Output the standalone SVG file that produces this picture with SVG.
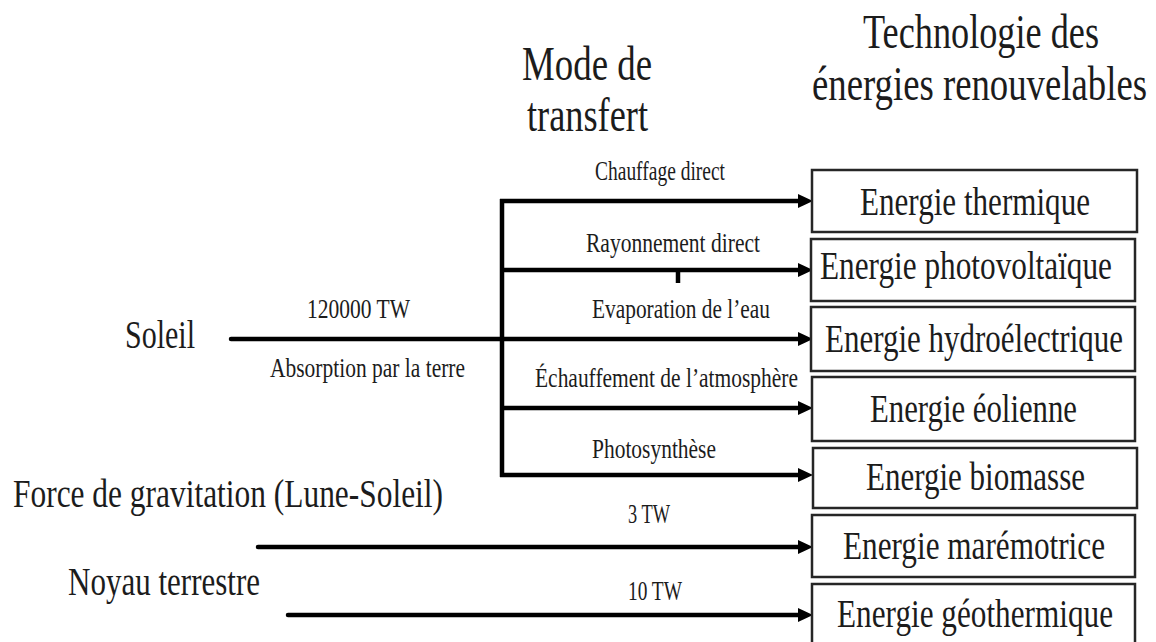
<svg xmlns="http://www.w3.org/2000/svg" width="1156" height="642" viewBox="0 0 1156 642">
<defs>
<marker id="arr" markerUnits="userSpaceOnUse" markerWidth="18" markerHeight="16" refX="7" refY="7" orient="auto">
<path d="M0,0 L15,7 L0,14 z" fill="#000"/>
</marker>
<style>
text{font-family:"Liberation Serif","Times New Roman",serif;fill:#1c1c1c}
.big{font-size:48px}
.box{font-size:40px}
.src{font-size:39px}
.lab{font-size:27px}
.node rect{fill:#fff;stroke:#262626;stroke-width:2.5}
.conn path{fill:none;stroke:#000;stroke-width:4.5}
</style>
</defs>
<rect width="1156" height="642" fill="#fff"/>
<g id="titles">
<text class="big" x="522" y="80" textLength="130" lengthAdjust="spacingAndGlyphs">Mode de</text>
<text class="big" x="527" y="131" textLength="121" lengthAdjust="spacingAndGlyphs">transfert</text>
<text class="big" x="863" y="48" textLength="236" lengthAdjust="spacingAndGlyphs">Technologie des</text>
<text class="big" x="812" y="100" textLength="335" lengthAdjust="spacingAndGlyphs">énergies renouvelables</text>
</g>
<g class="conn" id="connectors">
<path d="M231,339 H502" stroke-width="5.5" stroke-linecap="round"/>
<path d="M502,199 V477"/>
<path d="M500,201 H805" marker-end="url(#arr)"/>
<path d="M502,270 H805" stroke-width="3.5" marker-end="url(#arr)"/>
<path d="M502,339 H805" marker-end="url(#arr)"/>
<path d="M502,408 H805" marker-end="url(#arr)"/>
<path d="M500,475 H805" stroke-width="3.5" marker-end="url(#arr)"/>
<path d="M678,270 V283" stroke-width="1.5"/>
<path d="M258,547 H805" stroke-width="5" stroke-linecap="round" marker-end="url(#arr)"/>
<path d="M288,615 H805" stroke-width="4" stroke-linecap="round" marker-end="url(#arr)"/>
</g>
<g id="labels">
<text class="lab" x="595" y="180" textLength="130" lengthAdjust="spacingAndGlyphs">Chauffage direct</text>
<text class="lab" x="586" y="252" textLength="174" lengthAdjust="spacingAndGlyphs">Rayonnement direct</text>
<text class="lab" x="592" y="318" textLength="178" lengthAdjust="spacingAndGlyphs">Evaporation de l’eau</text>
<text class="lab" x="535" y="387" textLength="263" lengthAdjust="spacingAndGlyphs">Échauffement de l’atmosphère</text>
<text class="lab" x="592" y="458" textLength="124" lengthAdjust="spacingAndGlyphs">Photosynthèse</text>
<text class="lab" x="307" y="318" textLength="103" lengthAdjust="spacingAndGlyphs">120000 TW</text>
<text class="lab" x="270" y="377" textLength="195" lengthAdjust="spacingAndGlyphs">Absorption par la terre</text>
<text class="lab" x="628" y="523" textLength="42" lengthAdjust="spacingAndGlyphs">3 TW</text>
<text class="lab" x="628" y="600" textLength="54" lengthAdjust="spacingAndGlyphs">10 TW</text>
</g>
<g id="soleil"><text class="src" x="125" y="348" textLength="70" lengthAdjust="spacingAndGlyphs">Soleil</text></g>
<g id="gravitation"><text class="src" x="13" y="507" textLength="430" lengthAdjust="spacingAndGlyphs">Force de gravitation (Lune-Soleil)</text></g>
<g id="noyau"><text class="src" x="68" y="595" textLength="192" lengthAdjust="spacingAndGlyphs">Noyau terrestre</text></g>
<g class="node" id="thermique"><rect x="812" y="170" width="325" height="62"/><text class="box" x="860" y="215" textLength="230" lengthAdjust="spacingAndGlyphs">Energie thermique</text></g>
<g class="node" id="photovoltaique"><rect x="811" y="239" width="324" height="62"/><text class="box" x="820" y="279" textLength="292" lengthAdjust="spacingAndGlyphs">Energie photovoltaïque</text></g>
<g class="node" id="hydro"><rect x="811" y="307" width="324" height="64"/><text class="box" x="825" y="352" textLength="298" lengthAdjust="spacingAndGlyphs">Energie hydroélectrique</text></g>
<g class="node" id="eolienne"><rect x="812" y="377" width="323" height="64"/><text class="box" x="870" y="422" textLength="207" lengthAdjust="spacingAndGlyphs">Energie éolienne</text></g>
<g class="node" id="biomasse"><rect x="813" y="448" width="324" height="60"/><text class="box" x="866" y="490" textLength="219" lengthAdjust="spacingAndGlyphs">Energie biomasse</text></g>
<g class="node" id="maremotrice"><rect x="812" y="515" width="323" height="62"/><text class="box" x="843" y="559" textLength="262" lengthAdjust="spacingAndGlyphs">Energie marémotrice</text></g>
<g class="node" id="geothermique"><rect x="812" y="584" width="323" height="66"/><text class="box" x="837" y="627" textLength="276" lengthAdjust="spacingAndGlyphs">Energie géothermique</text></g>
</svg>
